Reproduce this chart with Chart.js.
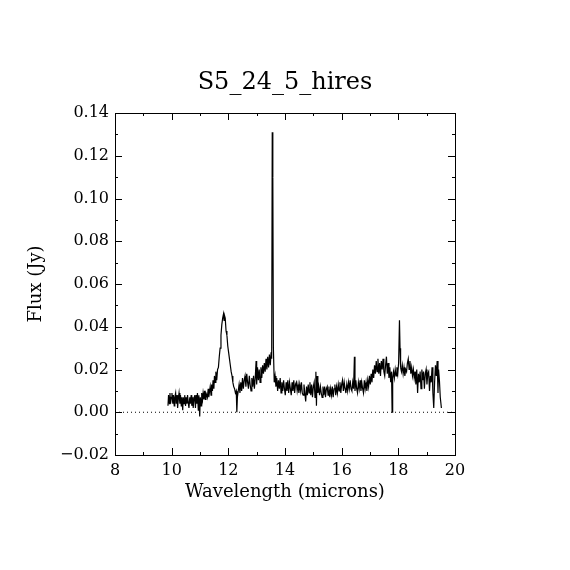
<!DOCTYPE html>
<html lang="en">
<head>
    <meta charset="UTF-8">
    <title>S5_24_5_hires</title>
    <script src="https://cdn.jsdelivr.net/npm/chart.js"></script>
    <style>
        html, body { margin: 0; padding: 0; background: white; }
        #wrap { width: 570px; height: 570px; }
    </style>
</head>
<body>
    <div id="wrap"><canvas id="spec" width="570" height="570"></canvas></div>

    <script>
        // spectrum
        const wavelength = [
            9.87, 9.89, 9.92, 9.94, 9.96, 9.99, 10.01, 10.04, 10.06, 10.09, 10.11, 10.14, 10.16, 10.19, 10.21, 10.24,
            10.26, 10.29, 10.31, 10.34, 10.36, 10.39, 10.41, 10.44, 10.46, 10.49, 10.51, 10.54, 10.56, 10.59, 10.61,
            10.64, 10.66, 10.69, 10.71, 10.74, 10.76, 10.79, 10.81, 10.84, 10.86, 10.89, 10.91, 10.94, 10.96, 10.99,
            11.01, 11.04, 11.06, 11.09, 11.11, 11.14, 11.16, 11.19, 11.21, 11.24, 11.26, 11.29, 11.31, 11.34, 11.36,
            11.39, 11.41, 11.44, 11.46, 11.49, 11.51, 11.54, 11.56, 11.59, 11.62, 11.65, 11.68, 11.71, 11.74, 11.77,
            11.80, 11.83, 11.85, 11.87, 11.89, 11.92, 11.95, 11.98, 12.01, 12.04, 12.07, 12.10, 12.13, 12.16, 12.19,
            12.22, 12.25, 12.28, 12.30, 12.32, 12.35, 12.38, 12.41, 12.44, 12.47, 12.50, 12.53, 12.56, 12.59, 12.62,
            12.65, 12.68, 12.71, 12.74, 12.77, 12.80, 12.83, 12.86, 12.89, 12.92, 12.95, 12.98, 13.00, 13.03, 13.06,
            13.09, 13.12, 13.15, 13.18, 13.21, 13.24, 13.27, 13.30, 13.33, 13.36, 13.39, 13.42, 13.45, 13.48, 13.51,
            13.53, 13.55, 13.57, 13.59, 13.62, 13.65, 13.68, 13.71, 13.74, 13.77, 13.80, 13.83, 13.86, 13.89, 13.92,
            13.95, 13.98, 14.01, 14.04, 14.07, 14.10, 14.13, 14.16, 14.19, 14.22, 14.25, 14.28, 14.31, 14.34, 14.37,
            14.40, 14.43, 14.46, 14.49, 14.52, 14.55, 14.58, 14.61, 14.64, 14.67, 14.70, 14.73, 14.76, 14.79, 14.82,
            14.85, 14.88, 14.91, 14.94, 14.97, 15.00, 15.03, 15.06, 15.09, 15.11, 15.13, 15.16, 15.19, 15.22, 15.25,
            15.28, 15.31, 15.34, 15.37, 15.40, 15.43, 15.46, 15.49, 15.52, 15.55, 15.58, 15.61, 15.64, 15.67, 15.70,
            15.73, 15.76, 15.79, 15.82, 15.85, 15.88, 15.91, 15.94, 15.97, 16.00, 16.03, 16.06, 16.09, 16.12, 16.15,
            16.18, 16.21, 16.24, 16.27, 16.30, 16.33, 16.36, 16.39, 16.42, 16.45, 16.47, 16.50, 16.53, 16.56, 16.59,
            16.62, 16.65, 16.68, 16.71, 16.74, 16.77, 16.80, 16.83, 16.86, 16.89, 16.92, 16.95, 16.98, 17.01, 17.04,
            17.07, 17.10, 17.13, 17.16, 17.19, 17.22, 17.25, 17.28, 17.31, 17.34, 17.37, 17.40, 17.43, 17.46, 17.49,
            17.52, 17.55, 17.58, 17.61, 17.64, 17.67, 17.70, 17.73, 17.76, 17.78, 17.80, 17.83, 17.86, 17.89, 17.92,
            17.95, 17.98, 18.01, 18.04, 18.06, 18.08, 18.11, 18.14, 18.17, 18.20, 18.23, 18.26, 18.29, 18.32, 18.35,
            18.38, 18.41, 18.44, 18.47, 18.50, 18.53, 18.56, 18.59, 18.62, 18.65, 18.68, 18.71, 18.74, 18.77, 18.80,
            18.83, 18.86, 18.89, 18.92, 18.95, 18.98, 19.01, 19.04, 19.07, 19.10, 19.13, 19.16, 19.19, 19.22, 19.25,
            19.28, 19.31, 19.34, 19.37, 19.40, 19.42, 19.45, 19.48, 19.52
        ];
        const flux = [
            0.003, 0.008, 0.004, 0.009, 0.004, 0.007, 0.009, 0.004, 0.008, 0.003, 0.007, 0.009, 0.004, 0.008, 0.002, 0.007,
            0.009, 0.004, 0.008, 0.003, 0.007, 0.001, 0.007, 0.004, 0.008, 0.003, 0.007, 0.004, 0.008, 0.004, 0.002,
            0.007, 0.004, 0.008, 0.003, 0.007, 0.002, 0.007, 0.008, 0.002, 0.008, 0.004, 0.009, 0.001, 0.008, -0.002,
            0.007, 0.003, 0.009, 0.006, 0.009, 0.006, 0.010, 0.006, 0.009, 0.008, 0.007, 0.011, 0.007, 0.010, 0.012,
            0.008, 0.013, 0.010, 0.015, 0.011, 0.017, 0.014, 0.019, 0.015, 0.020, 0.021, 0.026, 0.030, 0.036, 0.041,
            0.044, 0.046, 0.043, 0.045, 0.044, 0.038, 0.036, 0.031, 0.028, 0.025, 0.022, 0.019, 0.017, 0.014, 0.012,
            0.011, 0.009, 0.010, 0.000, 0.007, 0.010, 0.013, 0.009, 0.014, 0.010, 0.016, 0.011, 0.015, 0.017, 0.012,
            0.018, 0.014, 0.011, 0.017, 0.013, 0.010, 0.016, 0.012, 0.017, 0.011, 0.016, 0.024, 0.013, 0.021, 0.015,
            0.020, 0.014, 0.021, 0.016, 0.022, 0.018, 0.023, 0.019, 0.025, 0.020, 0.026, 0.021, 0.027, 0.022, 0.028,
            0.025, 0.131, 0.110, 0.030, 0.014, 0.017, 0.012, 0.016, 0.010, 0.015, 0.011, 0.016, 0.009, 0.014, 0.010,
            0.015, 0.011, 0.008, 0.014, 0.010, 0.015, 0.009, 0.014, 0.011, 0.008, 0.014, 0.010, 0.015, 0.009, 0.013,
            0.014, 0.010, 0.013, 0.009, 0.013, 0.010, 0.014, 0.009, 0.008, 0.013, 0.009, 0.005, 0.012, 0.008, 0.013,
            0.009, 0.014, 0.008, 0.013, 0.007, 0.012, 0.014, 0.007, 0.019, 0.003, 0.017, 0.009, 0.012, 0.008, 0.012,
            0.009, 0.007, 0.012, 0.008, 0.012, 0.007, 0.011, 0.012, 0.008, 0.012, 0.007, 0.011, 0.008, 0.012, 0.007,
            0.011, 0.013, 0.008, 0.012, 0.009, 0.013, 0.010, 0.014, 0.009, 0.013, 0.015, 0.010, 0.014, 0.011, 0.009,
            0.013, 0.010, 0.014, 0.011, 0.015, 0.011, 0.010, 0.014, 0.011, 0.026, 0.010, 0.015, 0.011, 0.009, 0.014,
            0.011, 0.015, 0.010, 0.014, 0.011, 0.009, 0.015, 0.011, 0.014, 0.010, 0.015, 0.012, 0.017, 0.013, 0.018,
            0.014, 0.020, 0.016, 0.022, 0.018, 0.024, 0.019, 0.025, 0.018, 0.023, 0.017, 0.024, 0.020, 0.025, 0.019,
            0.017, 0.022, 0.026, 0.018, 0.023, 0.016, 0.021, 0.014, 0.019, 0.000, 0.016, 0.019, 0.016, 0.020, 0.017,
            0.021, 0.018, 0.023, 0.043, 0.030, 0.021, 0.019, 0.022, 0.018, 0.021, 0.017, 0.020, 0.019, 0.023, 0.025,
            0.020, 0.024, 0.018, 0.021, 0.017, 0.020, 0.016, 0.019, 0.013, 0.020, 0.009, 0.018, 0.014, 0.019, 0.011,
            0.020, 0.015, 0.019, 0.011, 0.018, 0.020, 0.013, 0.018, 0.019, 0.010, 0.017, 0.014, 0.021, 0.009, 0.002,
            0.014, 0.022, 0.017, 0.024, 0.009, 0.020, 0.015, 0.007, 0.002
        ];
        const xRange = [8, 20];
        const yRange = [-0.02, 0.14];
        const xMajorTicks = [8, 10, 12, 14, 16, 18, 20];
        const xMinorTicks = [9, 11, 13, 15, 17, 19];
        const yMajorTicks = [-0.02, 0.00, 0.02, 0.04, 0.06, 0.08, 0.10, 0.12, 0.14];
        const yMinorTicks = [-0.01, 0.01, 0.03, 0.05, 0.07, 0.09, 0.11, 0.13];

        const titleText = 'S5_24_5_hires';
        const xTitle = 'Wavelength (microns)';
        const yTitle = 'Flux (Jy)';
        const serif = '"DejaVu Serif", "Liberation Serif", serif';

        const points = wavelength.map((w, i) => ({ x: w, y: flux[i] }));
        const zeroLine = [{ x: xRange[0], y: 0 }, { x: xRange[1], y: 0 }];

        // IDL-style frame: box, inward ticks on all four sides, titles
        const idlFrame = {
            id: 'idlFrame',
            afterDraw(chart) {
                const c = chart.ctx;
                const a = chart.chartArea;
                const xs = chart.scales.x, ys = chart.scales.y;
                c.save();
                c.strokeStyle = '#000';
                c.lineWidth = 1;
                c.strokeRect(a.left + 0.5, a.top + 0.5, a.right - a.left, a.bottom - a.top);
                c.beginPath();
                const xt = (list, len) => list.forEach(v => {
                    const px = Math.round(xs.getPixelForValue(v)) + 0.5;
                    c.moveTo(px, a.bottom); c.lineTo(px, a.bottom - len);
                    c.moveTo(px, a.top); c.lineTo(px, a.top + len);
                });
                const yt = (list, len) => list.forEach(v => {
                    const py = Math.round(ys.getPixelForValue(v)) + 0.5;
                    c.moveTo(a.left, py); c.lineTo(a.left + len, py);
                    c.moveTo(a.right, py); c.lineTo(a.right - len, py);
                });
                xt(xMajorTicks, 7); xt(xMinorTicks, 3);
                yt(yMajorTicks, 7); yt(yMinorTicks, 3);
                c.stroke();

                c.fillStyle = '#000';
                c.textAlign = 'center';
                c.textBaseline = 'alphabetic';
                c.font = '24px ' + serif;
                c.fillText(titleText, (a.left + a.right) / 2, 89);
                c.font = '18px ' + serif;
                c.fillText(xTitle, (a.left + a.right) / 2, 497);
                c.translate(41, (a.top + a.bottom) / 2);
                c.rotate(-Math.PI / 2);
                c.fillText(yTitle, 0, 0);
                c.restore();
            }
        };

        const ctx = document.getElementById('spec').getContext('2d');
        new Chart(ctx, {
            type: 'line',
            data: {
                datasets: [
                    {
                        data: points,
                        borderColor: '#000',
                        borderWidth: 1.2,
                        pointRadius: 0,
                        tension: 0
                    },
                    {
                        data: zeroLine,
                        borderColor: '#000',
                        borderWidth: 1,
                        borderDash: [1, 3],
                        pointRadius: 0
                    }
                ]
            },
            options: {
                responsive: false,
                animation: false,
                layout: { padding: { top: 113, right: 115, left: 0, bottom: 0 } },
                plugins: {
                    legend: { display: false },
                    tooltip: { enabled: false },
                    title: { display: false }
                },
                scales: {
                    x: {
                        type: 'linear',
                        min: xRange[0],
                        max: xRange[1],
                        afterFit: s => { s.height = 115; },
                        afterBuildTicks: s => { s.ticks = xMajorTicks.map(v => ({ value: v })); },
                        grid: { display: false, drawTicks: false },
                        border: { display: false },
                        ticks: {
                            color: '#000',
                            padding: 6,
                            maxRotation: 0,
                            font: { family: serif, size: 16 },
                            callback: v => String(v)
                        }
                    },
                    y: {
                        type: 'linear',
                        min: yRange[0],
                        max: yRange[1],
                        afterFit: s => { s.width = 115; },
                        afterBuildTicks: s => { s.ticks = yMajorTicks.map(v => ({ value: v })); },
                        grid: { display: false, drawTicks: false },
                        border: { display: false },
                        ticks: {
                            color: '#000',
                            padding: 6,
                            font: { family: serif, size: 16 },
                            callback: v => v.toFixed(2).replace('-', '\u2212')
                        }
                    }
                }
            },
            plugins: [idlFrame]
        });
    </script>
</body>
</html>
